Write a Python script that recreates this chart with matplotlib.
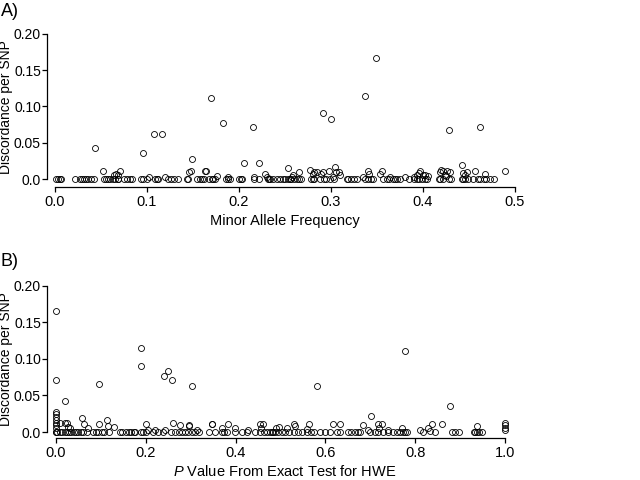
import matplotlib
matplotlib.use("Agg")
import matplotlib.pyplot as plt
from matplotlib import font_manager

_names = {f.name for f in font_manager.fontManager.ttflist}
NARROW = "Liberation Sans Narrow" if "Liberation Sans Narrow" in _names else "Liberation Sans"
plt.rcParams['font.family'] = [NARROW, 'Liberation Sans', 'DejaVu Sans']
plt.rcParams['mathtext.fontset'] = 'custom'
plt.rcParams['mathtext.rm'] = NARROW
plt.rcParams['mathtext.it'] = NARROW + ':italic'

# ---------------- Panel A data (Minor Allele Frequency vs discordance) ----------------
maf_nonzero_x = [0.044, 0.096, 0.108, 0.116, 0.149, 0.170, 0.183, 0.215, 0.205, 0.222,
                 0.291, 0.300, 0.337, 0.349, 0.428, 0.462, 0.253, 0.442, 0.489,
                 0.052, 0.064, 0.066, 0.068, 0.071, 0.146, 0.148, 0.163, 0.164, 0.176,
                 0.188, 0.102, 0.120, 0.216, 0.228, 0.230, 0.258, 0.259, 0.265, 0.277,
                 0.280, 0.282, 0.285, 0.289, 0.291, 0.298, 0.304, 0.305, 0.309, 0.310,
                 0.302, 0.335, 0.340, 0.341, 0.353, 0.355, 0.364, 0.380, 0.390, 0.394,
                 0.396, 0.397, 0.400, 0.402, 0.405, 0.419, 0.420, 0.422, 0.426, 0.429,
                 0.424, 0.425, 0.444, 0.446, 0.448, 0.456, 0.467]
maf_nonzero_y = [0.043, 0.036, 0.062, 0.062, 0.027, 0.111, 0.077, 0.071, 0.022, 0.022,
                 0.091, 0.083, 0.115, 0.167, 0.067, 0.071, 0.015, 0.019, 0.011,
                 0.011, 0.006, 0.007, 0.005, 0.011, 0.009, 0.011, 0.011, 0.011, 0.004,
                 0.003, 0.003, 0.003, 0.003, 0.007, 0.003, 0.003, 0.005, 0.009, 0.012,
                 0.007, 0.010, 0.010, 0.007, 0.010, 0.011, 0.016, 0.010, 0.010, 0.006,
                 0.003, 0.003, 0.011, 0.007, 0.007, 0.011, 0.003, 0.003, 0.003, 0.006,
                 0.008, 0.011, 0.006, 0.005, 0.004, 0.010, 0.012, 0.011, 0.011, 0.010,
                 0.006, 0.004, 0.008, 0.005, 0.010, 0.011, 0.007]
maf_zero_x = [0.001, 0.003, 0.005, 0.007, 0.022, 0.027, 0.029, 0.031, 0.034, 0.036, 0.039,
              0.042, 0.053, 0.055, 0.058, 0.060, 0.063, 0.065, 0.068, 0.069, 0.075, 0.078,
              0.082, 0.084, 0.093, 0.096, 0.100, 0.109, 0.111, 0.112, 0.123, 0.126, 0.129,
              0.134, 0.143, 0.145, 0.154, 0.158, 0.160, 0.162, 0.167, 0.171, 0.172, 0.174,
              0.186, 0.188, 0.190, 0.200, 0.202, 0.203, 0.216, 0.222, 0.231, 0.233, 0.234,
              0.237, 0.241, 0.245, 0.248, 0.250, 0.253, 0.255, 0.257, 0.260, 0.263, 0.265,
              0.267, 0.278, 0.280, 0.282, 0.288, 0.292, 0.295, 0.299, 0.303, 0.317, 0.319,
              0.322, 0.325, 0.328, 0.337, 0.340, 0.343, 0.346, 0.357, 0.361, 0.363, 0.367,
              0.370, 0.372, 0.375, 0.385, 0.390, 0.393, 0.396, 0.399, 0.402, 0.404, 0.417,
              0.419, 0.422, 0.428, 0.430, 0.442, 0.444, 0.446, 0.449, 0.454, 0.460, 0.462,
              0.466, 0.469, 0.473, 0.477]

# ---------------- Panel B data (HWE exact test P value vs discordance) ----------------
hwe_nonzero_x = [0.000, 0.000, 0.019, 0.096, 0.189, 0.189, 0.240, 0.249, 0.258, 0.304,
                 0.581, 0.777, 0.877, 0.702,
                 0.000, 0.000, 0.000, 0.000, 0.000, 0.000, 0.000,
                 0.009, 0.019, 0.024, 0.027, 0.031, 0.058, 0.063, 0.072, 0.096, 0.113,
                 0.115, 0.130, 0.200, 0.206, 0.220, 0.243, 0.261, 0.276, 0.296, 0.296,
                 0.313, 0.347, 0.348, 0.370, 0.383, 0.399, 0.428, 0.454, 0.460, 0.456,
                 0.490, 0.497, 0.529, 0.532, 0.514, 0.558, 0.563, 0.618, 0.632, 0.684,
                 0.718, 0.727, 0.720, 0.740, 0.770, 0.811, 0.829, 0.834, 0.838, 0.859,
                 0.938, 1.000, 1.000, 1.000, 1.000, 0.694]
hwe_nonzero_y = [0.166, 0.071, 0.043, 0.066, 0.115, 0.091, 0.077, 0.083, 0.071, 0.063,
                 0.063, 0.111, 0.036, 0.022,
                 0.027, 0.024, 0.021, 0.017, 0.012, 0.009, 0.006,
                 0.012, 0.012, 0.012, 0.007, 0.005, 0.019, 0.011, 0.006, 0.011, 0.016,
                 0.008, 0.007, 0.011, 0.003, 0.003, 0.003, 0.013, 0.009, 0.010, 0.008,
                 0.003, 0.011, 0.011, 0.006, 0.011, 0.006, 0.003, 0.011, 0.011, 0.006,
                 0.006, 0.007, 0.011, 0.008, 0.006, 0.004, 0.011, 0.011, 0.011, 0.009,
                 0.011, 0.011, 0.005, 0.003, 0.005, 0.003, 0.006, 0.002, 0.011, 0.011,
                 0.008, 0.012, 0.009, 0.006, 0.003, 0.003]
hwe_zero_x = [0.000, 0.000, 0.003, 0.009, 0.014, 0.019, 0.024, 0.029, 0.034, 0.040, 0.045,
              0.050, 0.055, 0.061, 0.070, 0.082, 0.089, 0.094, 0.102, 0.107, 0.117, 0.142,
              0.148, 0.156, 0.163, 0.168, 0.174, 0.177, 0.189, 0.194, 0.200, 0.217, 0.228,
              0.238, 0.256, 0.265, 0.273, 0.280, 0.287, 0.295, 0.302, 0.310, 0.319, 0.341,
              0.354, 0.369, 0.374, 0.380, 0.399, 0.414, 0.425, 0.443, 0.454, 0.463, 0.469,
              0.477, 0.480, 0.484, 0.488, 0.495, 0.503, 0.510, 0.520, 0.529, 0.540, 0.548,
              0.558, 0.569, 0.575, 0.588, 0.599, 0.610, 0.625, 0.633, 0.651, 0.658, 0.666,
              0.673, 0.677, 0.699, 0.710, 0.718, 0.729, 0.740, 0.751, 0.759, 0.766, 0.773,
              0.777, 0.781, 0.817, 0.844, 0.881, 0.889, 0.898, 0.930, 0.933, 0.937, 0.941,
              0.948]

xticks_a = [0.0, 0.1, 0.2, 0.3, 0.4, 0.5]
xticks_b = [0.0, 0.2, 0.4, 0.6, 0.8, 1.0]
xtick_labels_a = ["0.0", "0.1", "0.2", "0.3", "0.4", "0.5"]
xtick_labels_b = ["0.0", "0.2", "0.4", "0.6", "0.8", "1.0"]
yticks = [0.0, 0.05, 0.10, 0.15, 0.20]
ytick_labels = ["0.0", "0.05", "0.10", "0.15", "0.20"]

W, H = 640, 480
fig = plt.figure(figsize=(6.4, 4.8), dpi=100)


def px_axes(left, top, right, bottom):
    return fig.add_axes([left / W, 1 - bottom / H, (right - left) / W, (bottom - top) / H])


def style(ax, xticks, xlabels, xlim, ylim):
    ax.set_xlim(*xlim)
    ax.set_ylim(*ylim)
    for s in ("top", "right"):
        ax.spines[s].set_visible(False)
    ax.spines["left"].set_bounds(yticks[0], yticks[-1])
    ax.spines["bottom"].set_bounds(xticks[0], xticks[-1])
    for s in ("left", "bottom"):
        ax.spines[s].set_linewidth(0.9)
    ax.set_xticks(xticks)
    ax.set_xticklabels(xlabels)
    ax.set_yticks(yticks)
    ax.set_yticklabels(ytick_labels)
    ax.tick_params(axis="both", direction="out", length=3.4, width=0.9, labelsize=10.5)
    ax.tick_params(axis="y", pad=1.0, labelsize=10)
    ax.tick_params(axis="x", pad=2.5)


mk = dict(marker="o", linestyle="none", markerfacecolor="none",
          markeredgecolor="black", markersize=4.3, markeredgewidth=0.6)
ylab_font = dict(fontsize=10, family=["Liberation Sans", "DejaVu Sans"])

# Panel A
axA = px_axes(47, 28, 523, 187)
axA.plot(maf_zero_x, [0.0] * len(maf_zero_x), **mk)
axA.plot(maf_nonzero_x, maf_nonzero_y, **mk)
style(axA, xticks_a, xtick_labels_a, (-0.0087, 0.5087), (-0.011, 0.208))
axA.set_xlabel("Minor Allele Frequency", fontsize=10.5)
axA.xaxis.set_label_coords(0.5, -(214 - 187) / 159)
axA.set_ylabel("Discordance per SNP", **ylab_font)
axA.yaxis.set_label_coords((13.5 - 47) / 476, 0.5)
fig.text(1 / W, 1 - 11 / H, "A)", fontsize=13, va="center", ha="left")

# Panel B
axB = px_axes(47, 280, 523, 438)
axB.plot(hwe_zero_x, [0.0] * len(hwe_zero_x), **mk)
axB.plot(hwe_nonzero_x, hwe_nonzero_y, **mk)
style(axB, xticks_b, xtick_labels_b, (-0.020, 1.040), (-0.0082, 0.208))
axB.set_xlabel("$\\mathit{P}$ Value From Exact Test for HWE", fontsize=10.5)
axB.xaxis.set_label_coords(0.5, -(464 - 438) / 158)
axB.set_ylabel("Discordance per SNP", **ylab_font)
axB.yaxis.set_label_coords((13.5 - 47) / 476, 0.5)
fig.text(1 / W, 1 - 262 / H, "B)", fontsize=13, va="center", ha="left")

fig.savefig("out.png", dpi=100)
